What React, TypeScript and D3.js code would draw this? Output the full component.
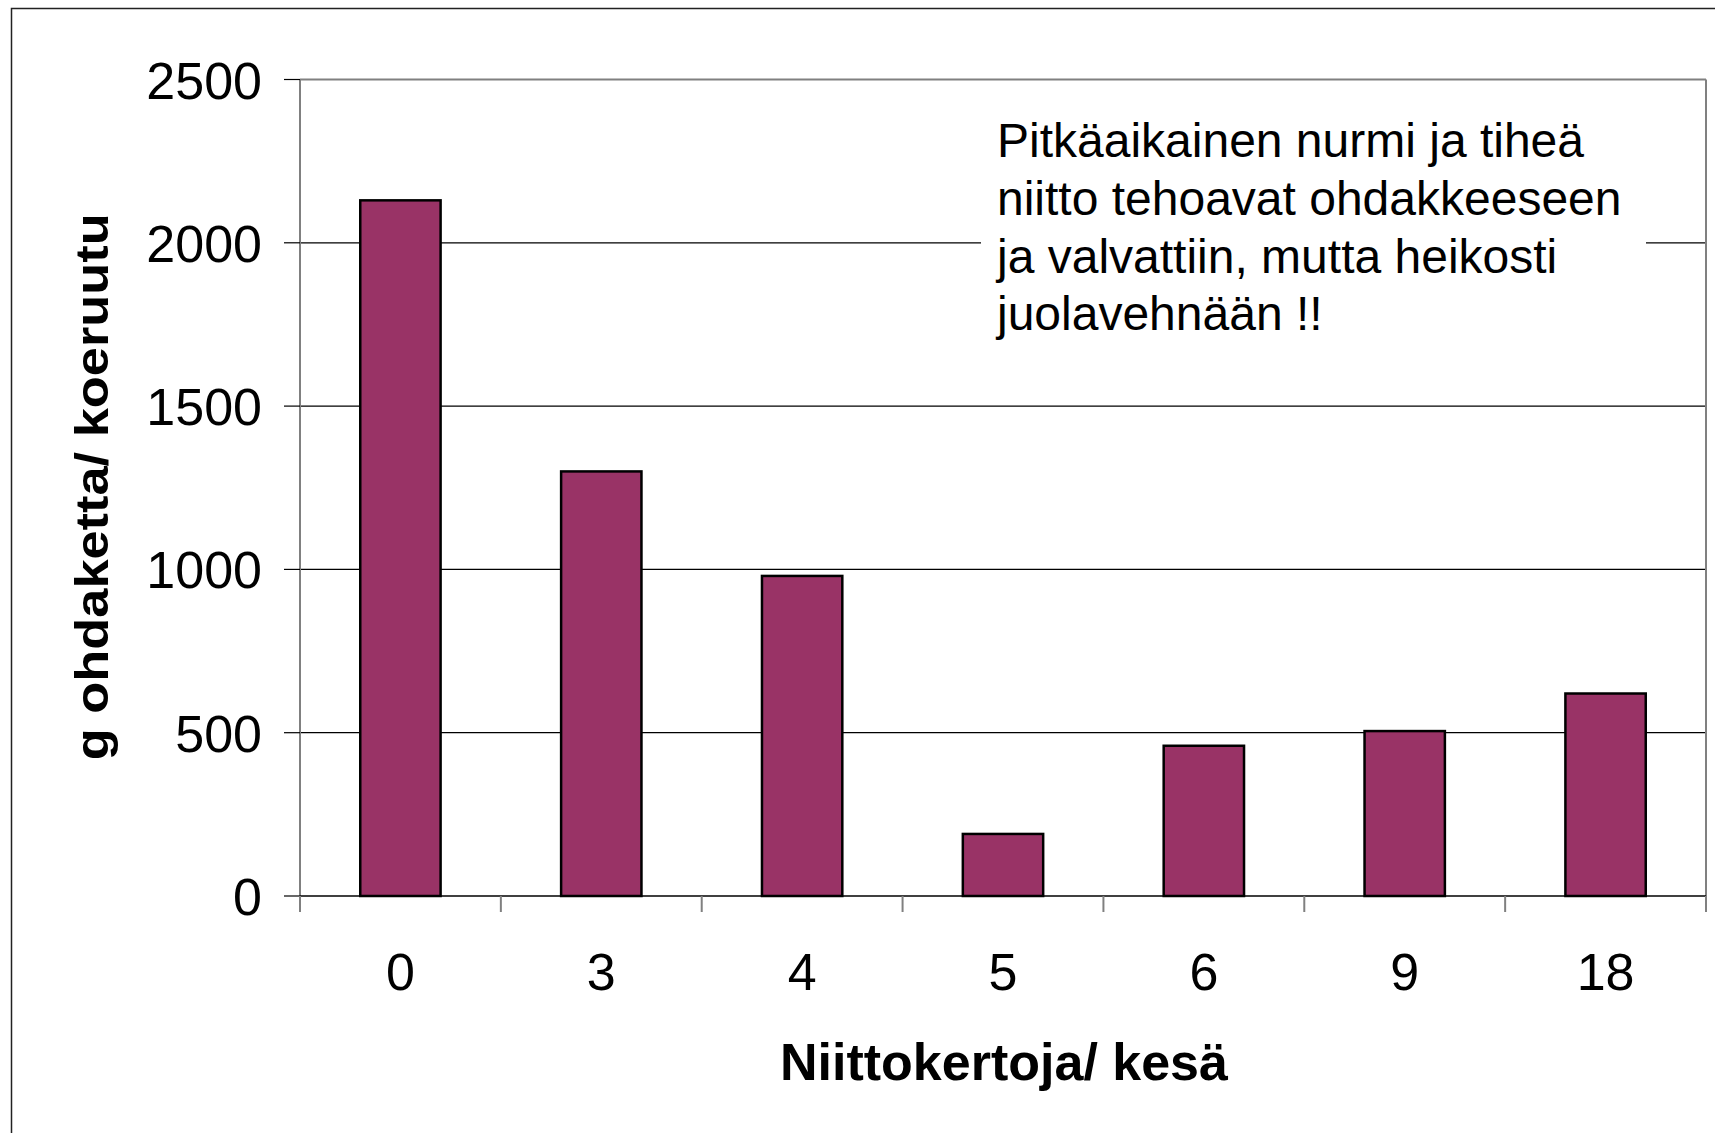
import React from "react";
import * as d3 from "d3";

const categories = ["0", "3", "4", "5", "6", "9", "18"];
const values = [2130, 1300, 980, 190, 460, 505, 620];
const yTicks = [0, 500, 1000, 1500, 2000, 2500];
const yTitle = "g ohdaketta/ koeruutu";
const xTitle = "Niittokertoja/ kesä";
const noteLines = [
  "Pitkäaikainen nurmi ja tiheä",
  "niitto tehoavat ohdakkeeseen",
  "ja valvattiin, mutta heikosti",
  "juolavehnään !!",
];

const W = 1715;
const H = 1133;
const left = 300;
const right = 1706;
const top = 79.5;
const bottom = 896;
const FONT = "Liberation Sans, Arial, Helvetica, sans-serif";

export default function App() {
  const x = d3
    .scaleBand<string>()
    .domain(categories)
    .range([left, right])
    .paddingInner(0.6)
    .paddingOuter(0.3);
  const y = d3.scaleLinear().domain([0, 2500]).range([bottom, top]);
  const step = x.step();
  const boundaries = d3.range(categories.length + 1).map((i) => left + i * step);

  return (
    <svg
      width={W}
      height={H}
      style={{ position: "absolute", left: 0, top: 0, background: "#fff" }}
      fontFamily={FONT}
    >
      <rect x={0} y={0} width={W} height={H} fill="#fff" />
      {/* outer frame */}
      <rect x={11.5} y={8.5} width={W + 10} height={H + 10} fill="none" stroke="#222" strokeWidth={1.5} />

      {/* gridlines */}
      {yTicks.filter((t) => t > 0 && t < 2500).map((t) => (
        <line key={"g" + t} x1={left} x2={right} y1={y(t)} y2={y(t)} stroke="#000" strokeWidth={1.2} />
      ))}

      {/* plot border */}
      <line x1={left} x2={right} y1={top} y2={top} stroke="#808080" strokeWidth={2} />
      <line x1={right} x2={right} y1={top} y2={bottom} stroke="#808080" strokeWidth={2} />
      <line x1={left} x2={left} y1={top} y2={bottom} stroke="#808080" strokeWidth={2} />

      {/* y ticks and labels */}
      {yTicks.map((t) => (
        <g key={"y" + t}>
          <line x1={284} x2={left} y1={y(t)} y2={y(t)} stroke="#000" strokeWidth={1.2} />
          <text x={262} y={y(t) + 19} textAnchor="end" fontSize={52} fill="#000">
            {t}
          </text>
        </g>
      ))}

      {/* bars */}
      {categories.map((c, i) => (
        <rect
          key={"b" + c}
          x={x(c)}
          y={y(values[i])}
          width={x.bandwidth()}
          height={y(0) - y(values[i])}
          fill="#993366"
          stroke="#000"
          strokeWidth={2.5}
        />
      ))}

      {/* x axis */}
      <line x1={left} x2={right} y1={bottom} y2={bottom} stroke="#000" strokeWidth={1.5} />
      {boundaries.map((b, i) => (
        <line key={"xt" + i} x1={b} x2={b} y1={bottom} y2={912} stroke="#808080" strokeWidth={2} />
      ))}
      {categories.map((c) => (
        <text key={"xl" + c} x={(x(c) as number) + x.bandwidth() / 2} y={990} textAnchor="middle" fontSize={52} fill="#000">
          {c}
        </text>
      ))}

      {/* axis titles */}
      <text x={(left + right) / 2 + 1} y={1080} textAnchor="middle" fontSize={52} fontWeight="bold" fill="#000">
        {xTitle}
      </text>
      <text
        transform={`translate(108, ${(top + bottom) / 2 - 1}) rotate(-90)`}
        textAnchor="middle"
        fontSize={47}
        fontWeight="bold"
        fill="#000"
        textLength={547}
        lengthAdjust="spacingAndGlyphs"
      >
        {yTitle}
      </text>

      {/* annotation */}
      <rect x={981} y={112} width={665} height={235} fill="#fff" />
      {noteLines.map((l, i) => (
        <text key={"n" + i} x={997} y={157 + i * 57.8} fontSize={48} fill="#000">
          {l}
        </text>
      ))}
    </svg>
  );
}
